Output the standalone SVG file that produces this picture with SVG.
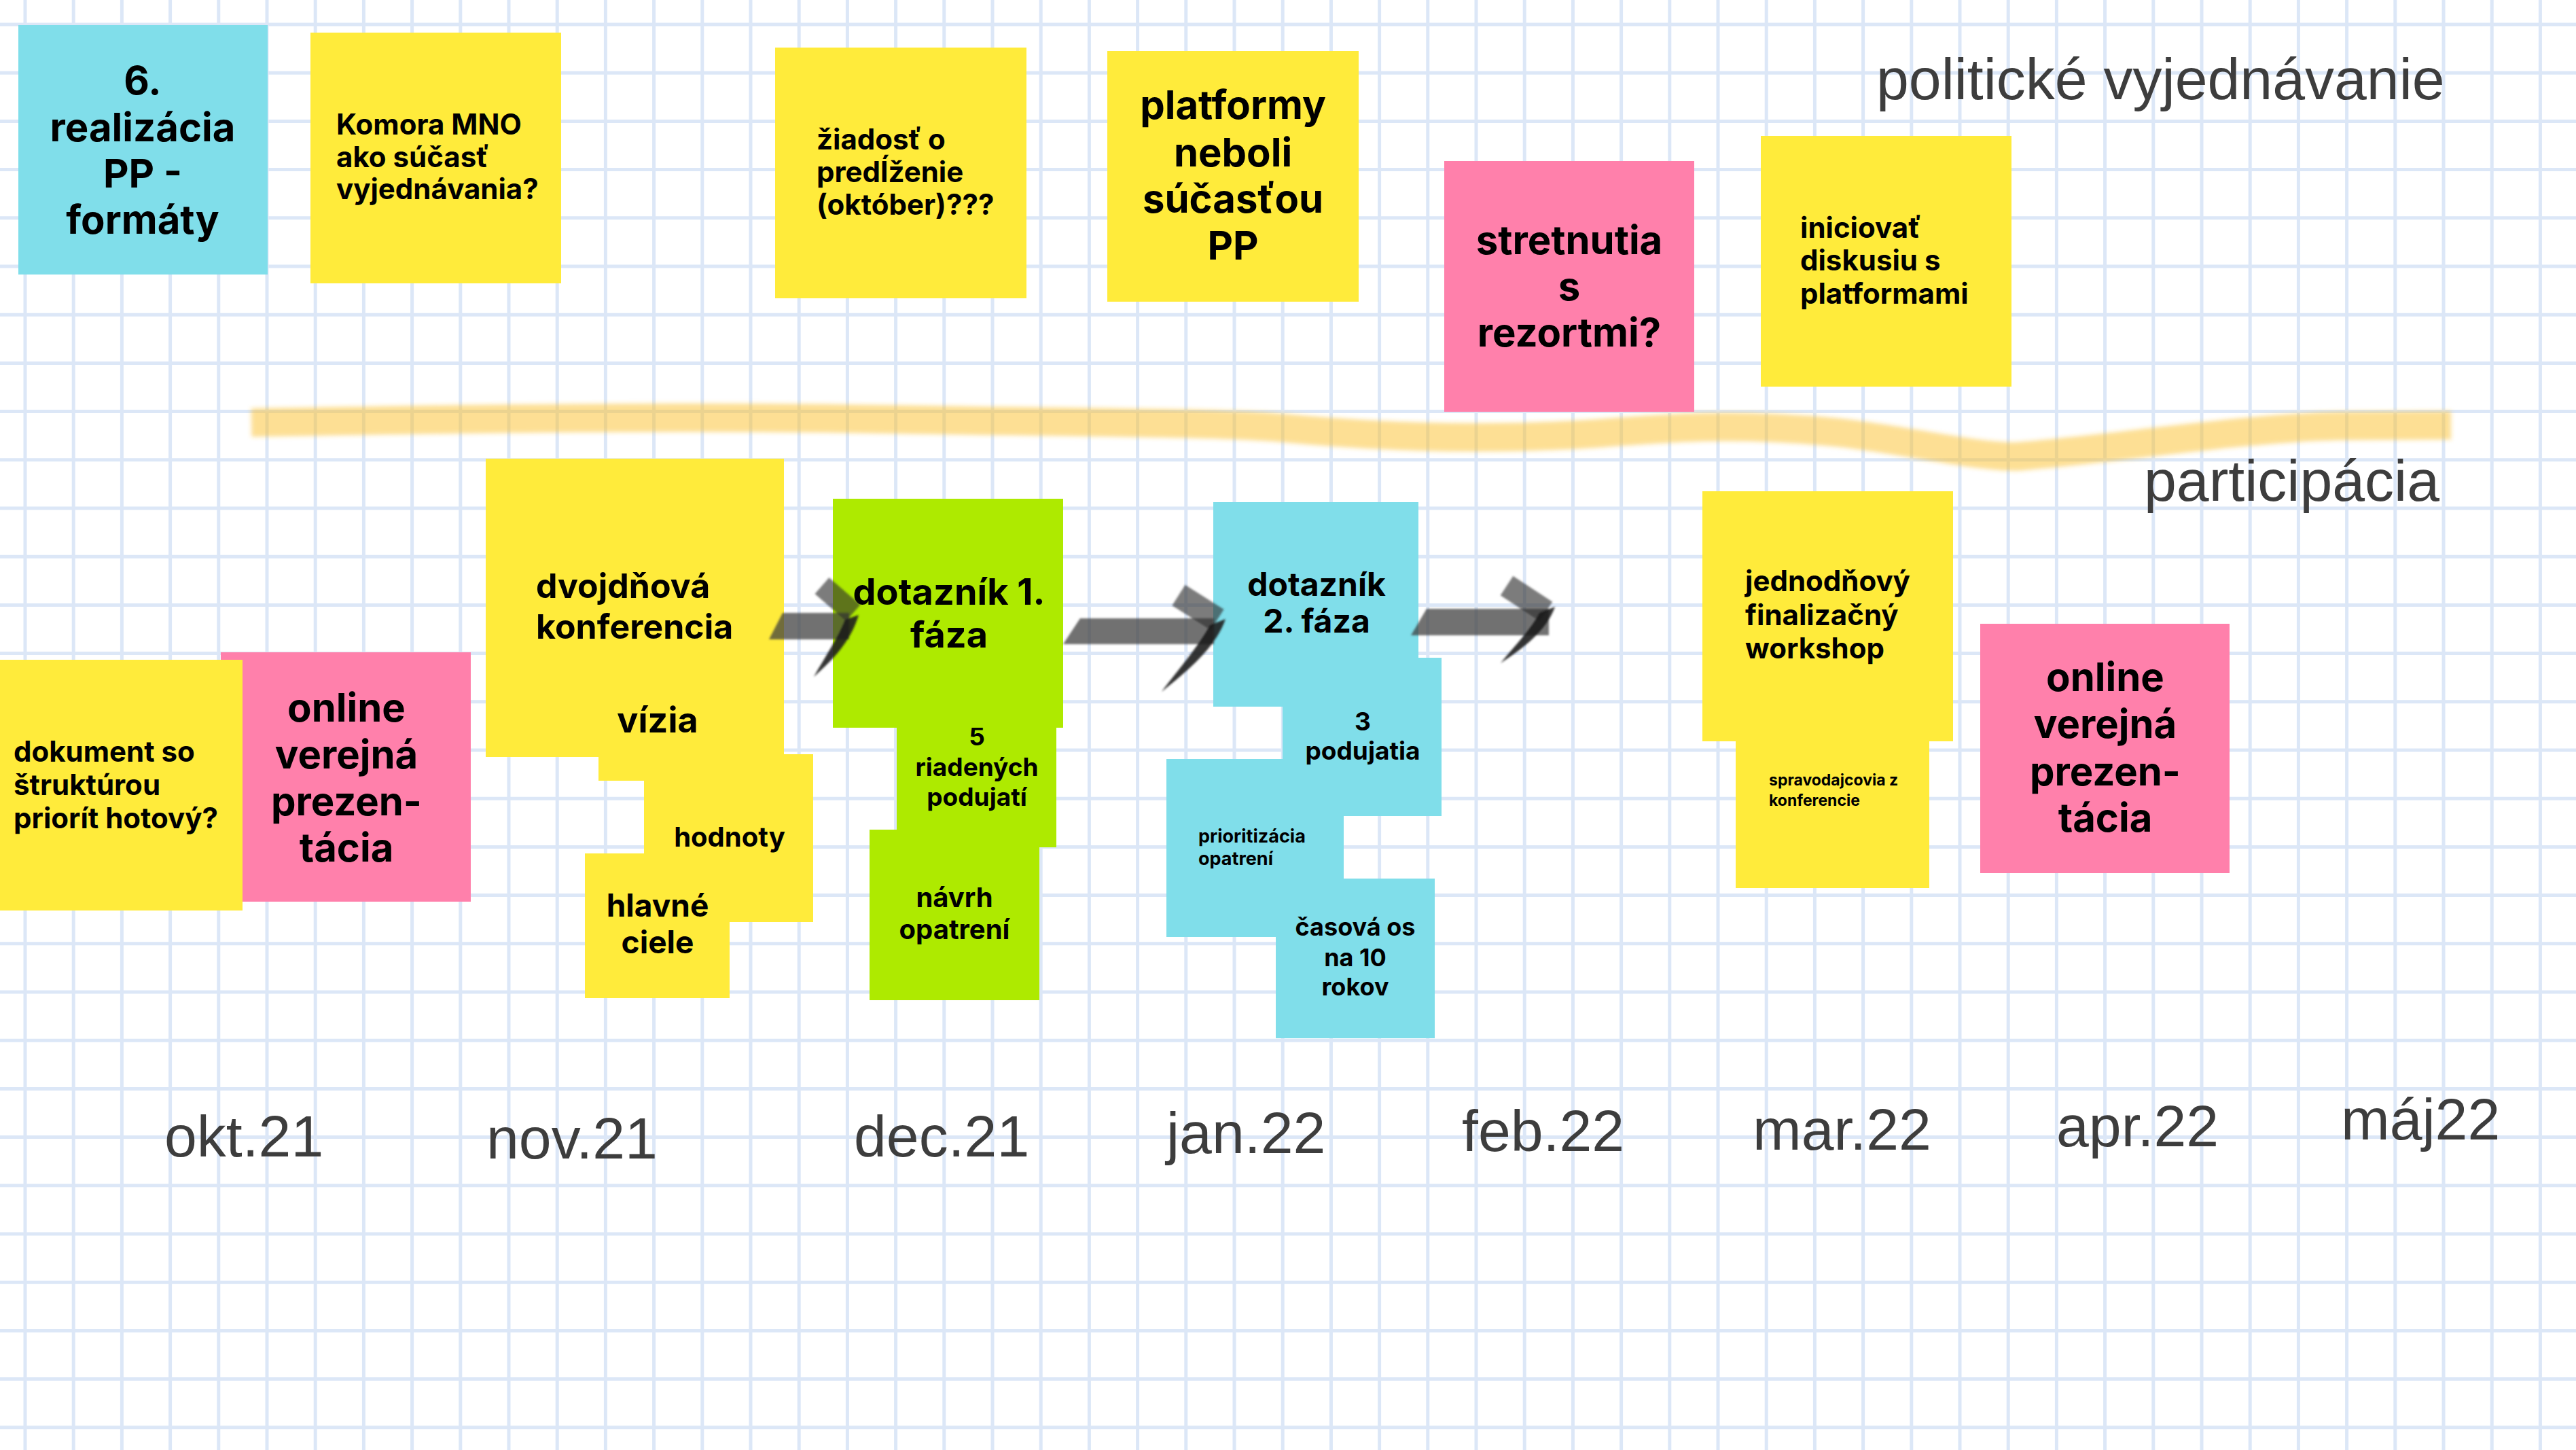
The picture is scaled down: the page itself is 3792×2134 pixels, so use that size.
<svg xmlns="http://www.w3.org/2000/svg" width="3792" height="2134" viewBox="0 0 3792 2134">
<defs>
<style>
.t{font-family:Inter,"Liberation Sans",sans-serif;font-weight:700;fill:#000}
.c{text-anchor:middle}
.lbl{font-family:"Liberation Sans",Arial,sans-serif;font-size:86px;fill:#3d3d3d}
.y{fill:#ffeb3b}.b{fill:#80deea}.p{fill:#ff80ab}.g{fill:#aeea00}
.shaft{fill:#3a3a3a;fill-opacity:.72}
.arm{fill:none;stroke:#2e2e2e;stroke-opacity:.62;stroke-linecap:butt}
.tail{fill:#1c1c1c;fill-opacity:.9}
</style>
<filter id="soft" x="-10%" y="-50%" width="120%" height="200%"><feGaussianBlur stdDeviation="3"/></filter>
<filter id="brush" x="-20%" y="-20%" width="140%" height="140%"><feGaussianBlur stdDeviation="1.6"/></filter>
</defs>
<rect width="3792" height="2134" fill="#fff"/>
<g id="grid" fill="none" stroke="#dce7f7" stroke-width="5">
<path d="M37 0V2134M108.2 0V2134M179.4 0V2134M250.6 0V2134M321.8 0V2134M393 0V2134M464.2 0V2134M535.4 0V2134M606.6 0V2134M677.8 0V2134M749 0V2134M820.2 0V2134M891.4 0V2134M962.6 0V2134M1033.8 0V2134M1105 0V2134M1176.2 0V2134M1247.4 0V2134M1318.6 0V2134M1389.8 0V2134M1461 0V2134M1532.2 0V2134M1603.4 0V2134M1674.6 0V2134M1745.8 0V2134M1817 0V2134M1888.2 0V2134M1959.4 0V2134M2030.6 0V2134M2101.8 0V2134M2173 0V2134M2244.2 0V2134M2315.4 0V2134M2386.6 0V2134M2457.8 0V2134M2529 0V2134M2600.2 0V2134M2671.4 0V2134M2742.6 0V2134M2813.8 0V2134M2885 0V2134M2956.2 0V2134M3027.4 0V2134M3098.6 0V2134M3169.8 0V2134M3241 0V2134M3312.2 0V2134M3383.4 0V2134M3454.6 0V2134M3525.8 0V2134M3597 0V2134M3668.2 0V2134M3739.4 0V2134"/>
<path d="M0 36H3792M0 107.2H3792M0 178.4H3792M0 249.6H3792M0 320.8H3792M0 392H3792M0 463.2H3792M0 534.4H3792M0 605.6H3792M0 676.8H3792M0 748H3792M0 819.2H3792M0 890.4H3792M0 961.6H3792M0 1032.8H3792M0 1104H3792M0 1175.2H3792M0 1246.4H3792M0 1317.6H3792M0 1388.8H3792M0 1460H3792M0 1531.2H3792M0 1602.4H3792M0 1673.6H3792M0 1744.8H3792M0 1816H3792M0 1887.2H3792M0 1958.4H3792M0 2029.6H3792M0 2100.8H3792"/>
</g>
<g id="divider">
<path d="M370,622 C700,616 1000,612 1300,617 C1600,622 1800,622 1890,630 C2050,645 2200,648 2350,638 C2450,630 2550,622 2700,636 C2800,646 2900,672 2968,672 C3100,662 3300,630 3440,627 L3608,626" fill="none" stroke="#fbc02d" stroke-opacity=".5" stroke-width="42" filter="url(#soft)"/>
</g>
<g id="labels">
<text class="lbl" x="2762" y="146">politické vyjednávanie</text>
<text class="lbl" x="3156" y="737">participácia</text>
<text class="lbl" x="242" y="1702">okt.21</text>
<text class="lbl" x="716" y="1705">nov.21</text>
<text class="lbl" x="1257" y="1702">dec.21</text>
<text class="lbl" x="1717" y="1697">jan.22</text>
<text class="lbl" x="2152" y="1694">feb.22</text>
<text class="lbl" x="2580" y="1692">mar.22</text>
<text class="lbl" x="3027" y="1687">apr.22</text>
<text class="lbl" x="3446" y="1677">máj22</text>
</g>
<g id="n-realizacia"><rect class="b" x="27" y="37" width="367" height="367"/>
<text class="t c" font-size="58" x="210"><tspan x="210" y="139">6.</tspan><tspan x="210" y="208">realizácia</tspan><tspan x="210" y="276">PP -</tspan><tspan x="210" y="344">formáty</tspan></text></g>
<g id="n-komora"><rect class="y" x="457" y="48" width="369" height="369"/>
<text class="t" font-size="42"><tspan x="495" y="198">Komora MNO</tspan><tspan x="495" y="246">ako súčasť</tspan><tspan x="495" y="293">vyjednávania?</tspan></text></g>
<g id="n-ziadost"><rect class="y" x="1141" y="70" width="370" height="369"/>
<text class="t" font-size="42"><tspan x="1202" y="220">žiadosť o</tspan><tspan x="1202" y="268">predĺženie</tspan><tspan x="1202" y="316">(október)???</tspan></text></g>
<g id="n-platformy"><rect class="y" x="1630" y="75" width="370" height="369"/>
<text class="t c" font-size="58"><tspan x="1815" y="175">platformy</tspan><tspan x="1815" y="245">neboli</tspan><tspan x="1815" y="313">súčasťou</tspan><tspan x="1815" y="382">PP</tspan></text></g>
<g id="n-stretnutia"><rect class="p" x="2126" y="237" width="368" height="369"/>
<text class="t c" font-size="58"><tspan x="2310" y="374">stretnutia</tspan><tspan x="2310" y="442">s</tspan><tspan x="2310" y="510">rezortmi?</tspan></text></g>
<g id="n-iniciovat"><rect class="y" x="2592" y="200" width="369" height="369"/>
<text class="t" font-size="42"><tspan x="2650" y="350">iniciovať</tspan><tspan x="2650" y="398">diskusiu s</tspan><tspan x="2650" y="447">platformami</tspan></text></g>
<g id="n-online1"><rect class="p" x="325" y="960" width="368" height="367"/>
<text class="t c" font-size="58"><tspan x="510" y="1062">online</tspan><tspan x="510" y="1131">verejná</tspan><tspan x="510" y="1200">prezen-</tspan><tspan x="510" y="1268">tácia</tspan></text></g>
<g id="n-dokument"><rect class="y" x="0" y="971" width="357" height="369"/>
<text class="t" font-size="42"><tspan x="20" y="1121">dokument so</tspan><tspan x="20" y="1170">štruktúrou</tspan><tspan x="20" y="1219">priorít hotový?</tspan></text></g>
<g id="n-vizia"><rect class="y" x="881" y="975" width="174" height="174"/></g>
<g id="n-konferencia"><rect class="y" x="715" y="675" width="439" height="439"/>
<text class="t" font-size="50"><tspan x="789" y="880">dvojdňová</tspan><tspan x="789" y="940">konferencia</tspan></text>
<text class="t c" font-size="52" x="968" y="1078">vízia</text></g>
<g id="n-hodnoty"><rect class="y" x="948" y="1110" width="249" height="247"/>
<text class="t c" font-size="40" x="1074" y="1246">hodnoty</text></g>
<g id="n-ciele"><rect class="y" x="861" y="1256" width="213" height="213"/>
<text class="t c" font-size="46"><tspan x="968" y="1349">hlavné</tspan><tspan x="968" y="1403">ciele</tspan></text></g>
<g id="n-riadenych"><rect class="g" x="1320" y="1012" width="235" height="235"/>
<text class="t c" font-size="37"><tspan x="1438" y="1097">5</tspan><tspan x="1438" y="1142">riadených</tspan><tspan x="1438" y="1186">podujatí</tspan></text></g>
<g id="n-dotaznik1"><rect class="g" x="1226" y="734" width="339" height="337"/>
<text class="t c" font-size="54"><tspan x="1397" y="890">dotazník 1.</tspan><tspan x="1397" y="953">fáza</tspan></text></g>
<g id="n-navrh"><rect class="g" x="1280" y="1221" width="250" height="251"/>
<text class="t c" font-size="40"><tspan x="1405" y="1335">návrh</tspan><tspan x="1405" y="1382">opatrení</tspan></text></g>
<g id="n-dotaznik2"><rect class="b" x="1786" y="739" width="302" height="301"/>
<text class="t c" font-size="48"><tspan x="1938" y="877">dotazník</tspan><tspan x="1938" y="931">2. fáza</tspan></text></g>
<g id="n-prioritizacia"><rect class="b" x="1717" y="1117" width="261" height="262"/>
<text class="t" font-size="27"><tspan x="1764" y="1240">prioritizácia</tspan><tspan x="1764" y="1273">opatrení</tspan></text></g>
<g id="n-podujatia"><rect class="b" x="1888" y="968" width="234" height="233"/>
<text class="t c" font-size="37"><tspan x="2006" y="1075">3</tspan><tspan x="2006" y="1118">podujatia</tspan></text></g>
<g id="n-casova"><rect class="b" x="1878" y="1293" width="234" height="235"/>
<text class="t c" font-size="36"><tspan x="1995" y="1377">časová os</tspan><tspan x="1995" y="1422">na 10</tspan><tspan x="1995" y="1465">rokov</tspan></text></g>
<g id="n-workshop"><rect class="y" x="2506" y="723" width="369" height="368"/>
<text class="t" font-size="42"><tspan x="2569" y="870">jednodňový</tspan><tspan x="2569" y="920">finalizačný</tspan><tspan x="2569" y="969">workshop</tspan></text></g>
<g id="n-spravodajcovia"><rect class="y" x="2555" y="1022" width="285" height="285"/>
<text class="t" font-size="23"><tspan x="2604" y="1156">spravodajcovia z</tspan><tspan x="2604" y="1186">konferencie</tspan></text></g>
<g id="n-online2"><rect class="p" x="2915" y="918" width="367" height="367"/>
<text class="t c" font-size="58"><tspan x="3099" y="1017">online</tspan><tspan x="3099" y="1086">verejná</tspan><tspan x="3099" y="1156">prezen-</tspan><tspan x="3099" y="1224">tácia</tspan></text></g>
<g id="connectors" filter="url(#brush)">
<path class="shaft" d="M1132,941 L1152,902 L1250,902 L1250,941 Z"/>
<path class="arm" d="M1210,862 L1256,902" stroke-width="32"/>
<path class="tail" d="M1264,905 C1252,945 1225,972 1198,996 C1215,966 1234,938 1244,912 Z"/>
<path class="shaft" d="M1565,948 L1590,910 L1787,910 L1787,948 Z"/>
<path class="arm" d="M1735,876 L1792,912" stroke-width="36"/>
<path class="tail" d="M1804,911 C1790,952 1750,986 1710,1018 C1735,985 1765,950 1781,920 Z"/>
<path class="shaft" d="M2077,935 L2100,896 L2280,896 L2280,935 Z"/>
<path class="arm" d="M2218,862 L2276,900" stroke-width="34"/>
<path class="tail" d="M2289,893 C2276,930 2240,955 2209,976 C2230,950 2254,926 2266,902 Z"/>
</g>
</svg>
